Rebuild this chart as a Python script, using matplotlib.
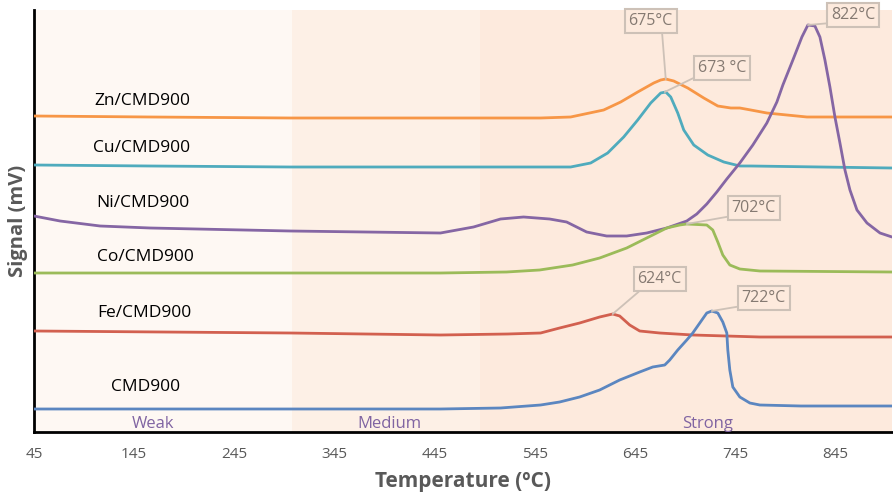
import matplotlib
matplotlib.use('Agg')
import matplotlib.pyplot as plt

plt.rcParams['font.family'] = ['Open Sans', 'DejaVu Sans']

# --- data (signal in arbitrary units, curves offset as in the original) ---
zn_t = [45, 161, 301, 451, 551, 581, 614, 631, 648, 664, 671, 676, 684, 698, 714, 728, 741, 750, 761, 777, 817, 902]
zn_s = [316, 315, 314, 314, 314, 315, 322, 330, 340, 349, 352, 353, 351, 344, 334, 326, 324, 324, 322, 319, 315, 315]

cu_t = [45, 161, 301, 451, 551, 581, 601, 618, 634, 648, 661, 671, 676, 681, 688, 694, 704, 718, 734, 750, 761, 902]
cu_s = [267, 266, 265, 265, 265, 265, 269, 279, 295, 312, 329, 339, 340, 335, 319, 302, 287, 277, 270, 266, 266, 264]

ni_t = [45, 71, 111, 161, 301, 451, 484, 511, 534, 560, 577, 587, 597, 617, 637, 657, 677, 697, 707, 717, 727,
        737, 750, 763, 777, 787, 793, 803, 812, 818, 825, 830, 835, 840, 845, 850, 855, 860, 867, 877, 890, 902]
ni_s = [216, 211, 206, 204, 201, 199, 205, 213, 215, 213, 210, 205, 200, 196, 196, 199, 204, 211, 218, 228, 240,
        253, 269, 287, 309, 330, 347, 372, 395, 407, 406, 395, 372, 345, 315, 289, 262, 242, 222, 209, 199, 195]

co_t = [45, 301, 451, 517, 550, 583, 610, 637, 657, 677, 690, 697, 717, 723, 728, 733, 740, 750, 770, 902]
co_s = [159, 159, 159, 160, 162, 167, 174, 184, 194, 204, 207, 208, 207, 202, 190, 177, 167, 163, 161, 160]

fe_t = [45, 301, 451, 518, 551, 570, 590, 610, 623, 630, 640, 650, 670, 703, 770, 902]
fe_s = [101, 99, 97, 98, 99, 104, 109, 115, 118, 116, 107, 101, 99, 97, 95, 95]

cmd_t = [45, 301, 451, 511, 551, 570, 590, 610, 630, 650, 663, 675, 680, 688, 697, 703, 710, 717, 722, 728,
         733, 737, 738, 740, 743, 750, 760, 770, 811, 902]
cmd_s = [23, 23, 23, 24, 27, 30, 35, 42, 52, 60, 65, 67, 72, 82, 92, 99, 109, 119, 121, 119,
         110, 99, 82, 62, 45, 35, 29, 27, 26, 26]

series = [
    ('Zn/CMD900', zn_t, zn_s, '#f79646'),
    ('Cu/CMD900', cu_t, cu_s, '#4fabbd'),
    ('Ni/CMD900', ni_t, ni_s, '#8566a4'),
    ('Co/CMD900', co_t, co_s, '#9bbb59'),
    ('Fe/CMD900', fe_t, fe_s, '#d2604f'),
    ('CMD900', cmd_t, cmd_s, '#5b86c0'),
]

# curve name label positions (temperature, signal)
name_t = [153, 152, 154, 156, 155, 156]
name_s = [331, 284, 229, 175, 119, 45]

# peak callouts: text, peak (t, s), box centre (t, s)
peak_txt = ['675°C', '673 °C', '822°C', '702°C', '624°C', '722°C']
peak_xy = [(676, 353), (675, 340), (818, 407), (697, 208), (623, 118), (722, 121)]
box_xy = [(661, 411), (732, 364), (863, 417), (764, 224), (670, 153), (774, 134)]
box_rel = [(0.75, 0), (0, 0), (0, 0), (0, 0), (0.15, 0), (0, 0)]

# acid strength regions
regions = [(45, 303, '#fef8f3', 'Weak', 164), (303, 490, '#fdf0e6', 'Medium', 400),
           (490, 902, '#fdeadd', 'Strong', 718)]

fig = plt.figure(figsize=(8.93, 4.97), dpi=100)
ax = fig.add_axes([34 / 893, 65 / 497, 858 / 893, 422 / 497])

for x0, x1, c, name, xc in regions:
    ax.axvspan(x0, x1, color=c, lw=0, zorder=0)
    ax.text(xc, 8, name, color='#8064a2', fontsize=12, ha='center', va='center')

for (name, t, s, c), lt, ls in zip(series, name_t, name_s):
    ax.plot(t, s, color=c, lw=2.0, solid_joinstyle='round', solid_capstyle='round', zorder=3)
    ax.text(lt, ls, name, fontsize=12.5, ha='center', va='center', color='black')

for txt, p, b, rel in zip(peak_txt, peak_xy, box_xy, box_rel):
    ax.annotate(txt, xy=p, xytext=b, ha='center', va='center', fontsize=11.5, color='#857a72',
                bbox=dict(boxstyle='square,pad=0.25', fc='#fdeadd', ec='#cdc1b7', lw=1.5),
                arrowprops=dict(arrowstyle='-', color='#cdc1b7', lw=1.3, shrinkA=0, shrinkB=0, relpos=rel),
                zorder=5)

ax.set_xlim(45, 902)
ax.set_ylim(0, 422)
ax.set_xticks(range(45, 846, 100))
ax.set_yticks([])
ax.tick_params(axis='x', length=0, pad=11, labelsize=11, labelcolor='#595959')
ax.spines['top'].set_visible(False)
ax.spines['right'].set_visible(False)
ax.spines['left'].set_linewidth(2)
ax.spines['bottom'].set_linewidth(2)
ax.set_xlabel('Temperature (ºC)', fontsize=15, fontweight='bold', color='#595959', labelpad=6)
ax.set_ylabel('Signal (mV)', fontsize=14.5, fontweight='bold', color='#595959', labelpad=4)

fig.savefig('out.png', dpi=100)
